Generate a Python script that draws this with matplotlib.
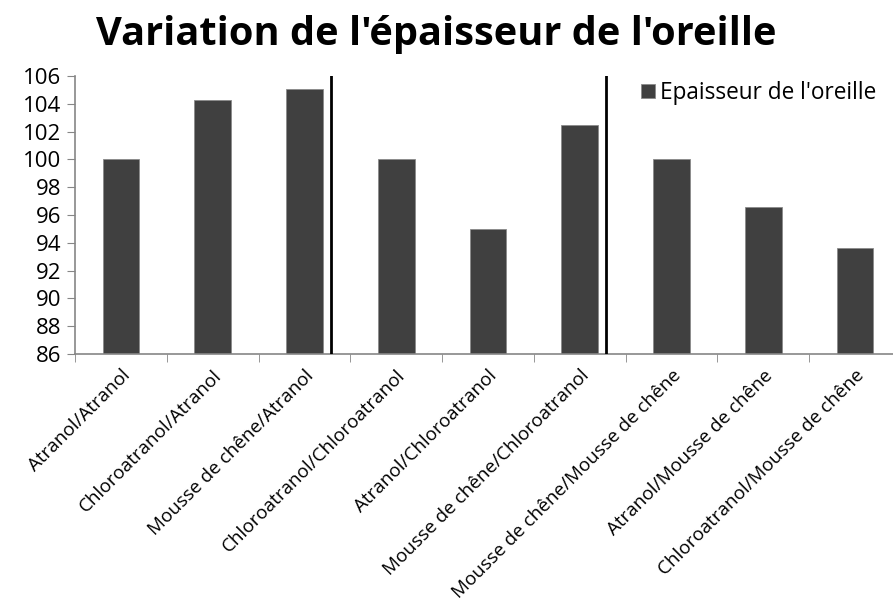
import matplotlib
matplotlib.use("Agg")
import matplotlib.pyplot as plt
import numpy as np

categories = [
    "Atranol/Atranol",
    "Chloroatranol/Atranol",
    "Mousse de chêne/Atranol",
    "Chloroatranol/Chloroatranol",
    "Atranol/Chloroatranol",
    "Mousse de chêne/Chloroatranol",
    "Mousse de chêne/Mousse de chêne",
    "Atranol/Mousse de chêne",
    "Chloroatranol/Mousse de chêne",
]
thickness = [100.0, 104.25, 105.1, 100.0, 95.0, 102.45, 100.0, 96.6, 93.6]
y_ticks = list(range(86, 107, 2))
series_name = "Epaisseur de l'oreille"
title = "Variation de l'épaisseur de l'oreille"
# group separators sit between the third/fourth and sixth/seventh categories
separators = [2.285, 5.285]

plt.rcParams['font.family'] = ['Open Sans', 'DejaVu Sans']

fig = plt.figure(figsize=(8.93, 6.03), dpi=100)
ax = fig.add_axes([75 / 893, 1 - 354 / 603, (901 - 75) / 893, (354 - 76) / 603])

x = np.arange(len(categories))
ax.bar(x, thickness, width=0.4, bottom=0, color="#404040",
       edgecolor="#8a8a8a", linewidth=0.6, label=series_name, zorder=2)

for s in separators:
    ax.axvline(s, color="black", linewidth=2, zorder=3)

ax.set_ylim(86, 106)
ax.set_xlim(-0.5, len(categories) - 0.5)
ax.set_yticks(y_ticks)
ax.set_yticklabels([str(v) for v in y_ticks], fontsize=16)

# category labels at centres, tick marks at boundaries
ax.set_xticks(x)
ax.set_xticklabels(categories, rotation=45, ha="right", va="top",
                   rotation_mode="anchor", fontsize=13.6)
ax.tick_params(axis="x", which="major", length=0, pad=9)
ax.set_xticks(np.arange(len(categories) + 1) - 0.5, minor=True)
ax.tick_params(axis="x", which="minor", length=6, color="#868686", direction="out")
ax.tick_params(axis="y", length=6, color="#868686", direction="out", pad=4)

for side in ("top", "right"):
    ax.spines[side].set_visible(False)
for side in ("left", "bottom"):
    ax.spines[side].set_color("#868686")
    ax.spines[side].set_linewidth(1.2)

fig.text(436 / 893, 1 - 34 / 603, title, ha="center", va="center",
         fontsize=28.6, fontweight="bold")

ax.legend(loc="upper left", bbox_to_anchor=(632 / 893, 1 - 72 / 603),
          bbox_transform=fig.transFigure, frameon=False, fontsize=16.3,
          handlelength=0.6, handleheight=0.6, handletextpad=0.25,
          borderaxespad=0)

fig.savefig("out.png", dpi=100)
